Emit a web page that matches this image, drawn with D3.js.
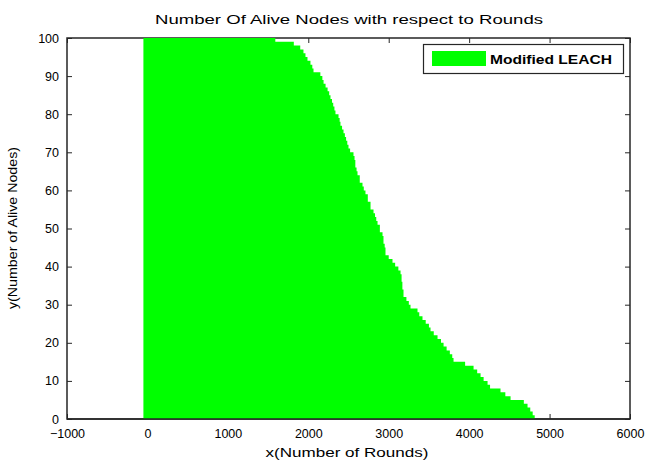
<!DOCTYPE html>
<html><head><meta charset="utf-8">
<script src="https://cdn.jsdelivr.net/npm/d3@7/dist/d3.min.js"></script>
<style>body{margin:0;background:#fff}svg{display:block;font-family:"Liberation Sans",Arial,sans-serif}</style>
</head><body><svg id="c" width="647" height="460"></svg>
<script>
const rounds = [-50,1590,1820,1900,1940,1965,1990,2027,2050,2065,2150,2175,2190,2215,2240,2260,2276,2295,2310,2325,2338,2376,2390,2400,2420,2438,2455,2470,2485,2500,2520,2562,2575,2585,2600,2612,2640,2674,2690,2711,2740,2774,2811,2830,2845,2861,2890,2923,2935,2950,2960,3000,3047,3080,3120,3147,3160,3170,3184,3220,3250,3271,3358,3380,3420,3460,3500,3520,3560,3607,3650,3682,3720,3760,3790,3806,3950,4055,4100,4142,4180,4229,4260,4390,4450,4515,4680,4726,4760,4790,4815];
const alive  = [100,99,98,97,96,95,94,93,92,91,90,89,88,87,86,85,84,83,82,81,80,79,78,77,76,75,74,73,72,71,70,69,68,66,65,64,62,61,60,59,57,55,54,53,52,51,49,48,46,45,43,42,41,40,39,38,36,34,32,31,30,29,28,27,26,25,24,23,22,21,20,19,18,17,16,15,14,13,12,11,10,9,8,7,6,5,4,3,2,1,0];
const xTicks = [-1000,0,1000,2000,3000,4000,5000,6000];
const yTicks = [0,10,20,30,40,50,60,70,80,90,100];
const seriesName = "Modified LEACH";

const svg = d3.select("#c");
const L=67,R=630,T=38,B=419;
const x = d3.scaleLinear().domain([-1000,6000]).range([L,R]);
const y = d3.scaleLinear().domain([0,100]).range([B,T]);
const data = rounds.map((r,i)=>({r, a:alive[i]}));

svg.append("defs").append("clipPath").attr("id","clip").append("rect")
  .attr("x",L).attr("y",T-1).attr("width",R-L).attr("height",B-T+1);

const g = svg.append("g");
const axCol="#262626";
g.append("g").attr("transform",`translate(0,${B})`)
  .call(d3.axisBottom(x).tickValues(xTicks).tickSize(-5).tickPadding(10).tickFormat(d3.format("d")))
  .call(s=>{s.select(".domain").remove();s.selectAll("text").attr("font-size",12.5).attr("fill","#000");s.selectAll("line").attr("stroke",axCol);});
g.append("g").attr("transform",`translate(0,${T})`)
  .call(d3.axisTop(x).tickValues(xTicks).tickSize(-5).tickFormat(""))
  .call(s=>{s.select(".domain").remove();s.selectAll("line").attr("stroke",axCol);});
g.append("g").attr("transform",`translate(${L},0)`)
  .call(d3.axisLeft(y).tickValues(yTicks).tickSize(-5).tickPadding(8))
  .call(s=>{s.select(".domain").remove();s.selectAll("text").attr("font-size",12.5).attr("fill","#000");s.selectAll("line").attr("stroke",axCol);});
g.append("g").attr("transform",`translate(${R},0)`)
  .call(d3.axisRight(y).tickValues(yTicks).tickSize(-5).tickFormat(""))
  .call(s=>{s.select(".domain").remove();s.selectAll("line").attr("stroke",axCol);});
svg.append("rect").attr("x",L).attr("y",T).attr("width",R-L).attr("height",B-T)
  .attr("fill","none").attr("stroke",axCol).attr("stroke-width",1.5);

const area = d3.area().curve(d3.curveStepAfter)
  .x(d=>x(d.r)).y0(y(0)).y1(d=>y(d.a));
svg.append("path").datum(data).attr("clip-path","url(#clip)")
  .attr("d",area).attr("fill","#00ff00").attr("stroke","none");
svg.append("line").attr("x1",L).attr("x2",R).attr("y1",B).attr("y2",B).attr("stroke",axCol).attr("stroke-width",1.5);

svg.append("text").attr("x",349).attr("y",24).attr("text-anchor","middle")
  .attr("font-size",13).attr("textLength",388).attr("lengthAdjust","spacingAndGlyphs")
  .text("Number Of Alive Nodes with respect to Rounds");
svg.append("text").attr("x",347).attr("y",457).attr("text-anchor","middle")
  .attr("font-size",13).attr("textLength",163).attr("lengthAdjust","spacingAndGlyphs")
  .text("x(Number of Rounds)");
svg.append("text").attr("transform","translate(17,228) rotate(-90)").attr("text-anchor","middle")
  .attr("font-size",12).attr("textLength",162).attr("lengthAdjust","spacingAndGlyphs")
  .text("y(Number of Alive Nodes)");

const lg = svg.append("g");
lg.append("rect").attr("x",423.5).attr("y",44.5).attr("width",200).attr("height",29)
  .attr("fill","#fff").attr("stroke",axCol).attr("stroke-width",1.2);
lg.append("rect").attr("x",432).attr("y",51).attr("width",54).attr("height",15).attr("fill","#00ff00");
lg.append("text").attr("x",490).attr("y",64).attr("font-size",13).attr("font-weight","bold")
  .attr("textLength",122).attr("lengthAdjust","spacingAndGlyphs").text(seriesName);
</script></body></html>
